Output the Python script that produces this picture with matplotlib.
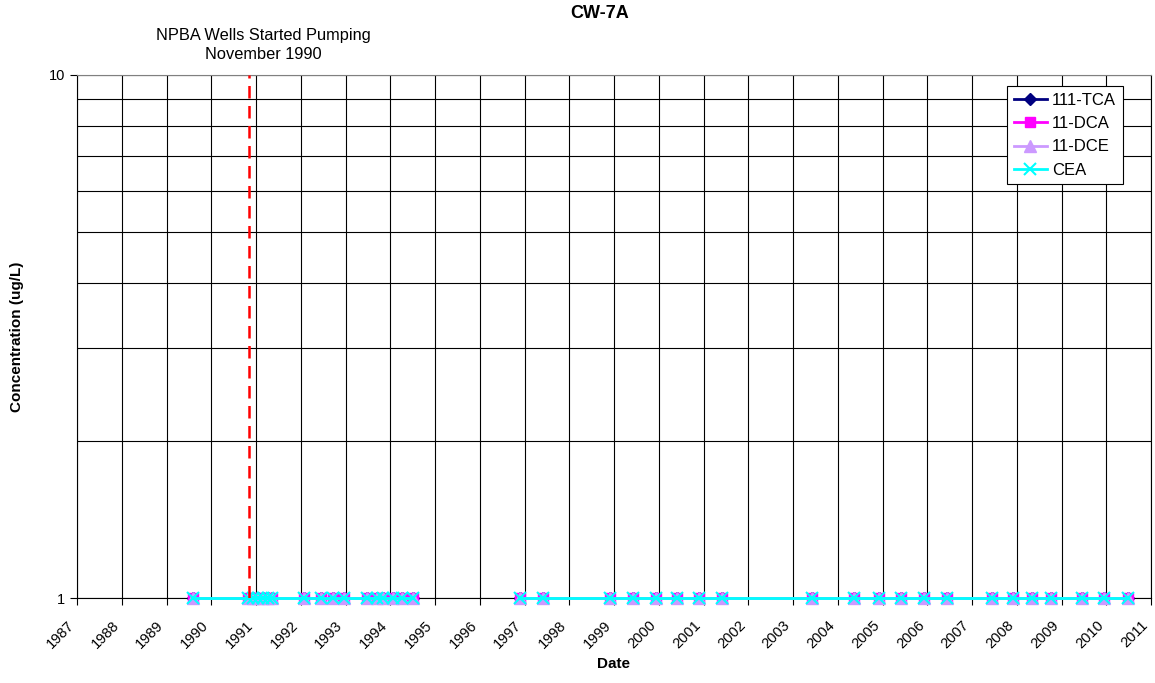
import numpy as np
import matplotlib.pyplot as plt
import matplotlib.transforms as mtransforms
from matplotlib.ticker import FixedLocator, NullFormatter

plt.rcParams['font.family'] = ['Liberation Sans', 'DejaVu Sans']

# sample dates (decimal years); NaN row marks the break in the record
dates = [1989.59, 1990.82, 1990.93, 1991.04, 1991.16, 1991.27, 1991.36,
         1992.07, 1992.45, 1992.72, 1992.97, 1993.48, 1993.70, 1993.84,
         1994.06, 1994.26, 1994.51, 1995.70, 1996.90, 1997.41, 1998.91,
         1999.42, 1999.94, 2000.41, 2000.90, 2001.41, 2003.42, 2004.36,
         2004.92, 2005.41, 2005.93, 2006.44, 2007.45, 2007.92, 2008.34,
         2008.77, 2009.46, 2009.95, 2010.49]
# all results reported at detection limit (1 ug/L)
tca_111 = [1.0] * 17 + [np.nan] + [1.0] * 21
dca_11 = [1.0] * 17 + [np.nan] + [1.0] * 21
dce_11 = [1.0] * 17 + [np.nan] + [1.0] * 21
cea = [1.0] * 17 + [np.nan] + [1.0] * 21

years = list(range(1987, 2012))
pumping_start = 1990.84

fig = plt.figure(figsize=(11.55, 6.83), dpi=100)
ax = fig.add_axes([77 / 1155, 1 - 598 / 683, 1074 / 1155, 523 / 683])

ax.plot(dates, tca_111, color='#000080', marker='D', ms=6, lw=2,
        label='111-TCA', clip_on=False, zorder=3)
ax.plot(dates, dca_11, color='#FF00FF', marker='s', ms=7.5, lw=2,
        label='11-DCA', clip_on=False, zorder=4)
ax.plot(dates, dce_11, color='#CC99FF', marker='^', ms=8.5, lw=2,
        label='11-DCE', clip_on=False, zorder=5)
ax.plot(dates, cea, color='#00FFFF', marker='x', ms=8, mew=1.5, lw=2,
        label='CEA', clip_on=False, zorder=6)

ax.axvline(pumping_start, color='#FF0000', lw=1.8, ls=(0, (5, 3)), zorder=7)

ax.set_yscale('log')
ax.set_ylim(1, 10)
ax.set_xlim(1987, 2011)
ax.set_yticks([1, 10])
ax.set_yticklabels(['1', '10'])
ax.yaxis.set_minor_locator(FixedLocator([2, 3, 4, 5, 6, 7, 8, 9]))
ax.yaxis.set_minor_formatter(NullFormatter())
ax.tick_params(axis='y', which='minor', length=0)
ax.set_xticks(years)
ax.set_xticklabels([str(y) for y in years], rotation=45, ha='right',
                   va='center', rotation_mode='anchor')
ax.tick_params(axis='both', which='major', labelsize=10.5, length=5,
               width=0.8, color='black')
ax.tick_params(axis='x', pad=13)
shift = mtransforms.ScaledTranslation(-5 / 100, 0, fig.dpi_scale_trans)
for lab in ax.get_xticklabels():
    lab.set_transform(lab.get_transform() + shift)

ax.grid(True, which='major', color='black', lw=0.8)
ax.grid(True, which='minor', axis='y', color='black', lw=0.8)
ax.set_axisbelow(True)
for sp in ax.spines.values():
    sp.set_color('black')
    sp.set_linewidth(0.8)
ax.spines['top'].set_color('#808080')

ax.set_xlabel('Date', fontsize=11, fontweight='bold', labelpad=4)
ax.set_ylabel('Concentration (ug/L)', fontsize=11, fontweight='bold',
              labelpad=18)

fig.text(600 / 1155, 1 - 13 / 683, 'CW-7A', fontsize=13, fontweight='bold',
         ha='center', va='center')
fig.text(263 / 1155, 1 - 45 / 683, 'NPBA Wells Started Pumping\nNovember 1990',
         fontsize=11.8, ha='center', va='center', linespacing=1.35)

leg = ax.legend(loc='upper left', bbox_to_anchor=(1007 / 1155, 1 - 86 / 683),
                bbox_transform=fig.transFigure, fontsize=12, frameon=True,
                fancybox=False, edgecolor='black', framealpha=1,
                handlelength=2.0, handletextpad=0.3, borderpad=0.4,
                labelspacing=0.5, borderaxespad=0)
leg.get_frame().set_linewidth(0.8)

fig.savefig('out.png', dpi=100)
